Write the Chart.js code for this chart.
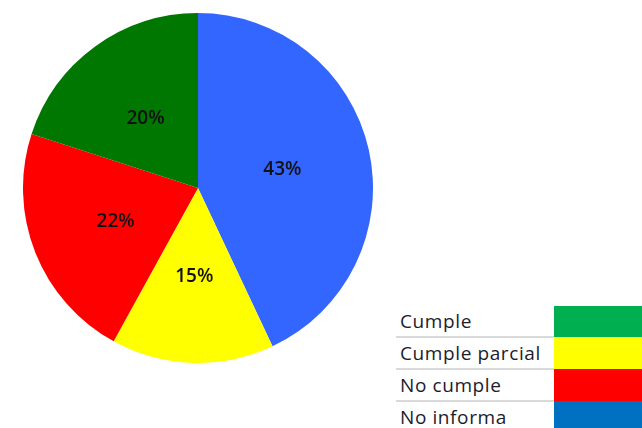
<!DOCTYPE html>
<html>
<head>
<meta charset="utf-8">
<script src="https://cdn.jsdelivr.net/npm/chart.js@4.4.1/dist/chart.umd.min.js"></script>
<style>
  html, body { margin: 0; padding: 0; background: #ffffff; width: 642px; height: 428px; overflow: hidden; }
  #pieWrap { position: absolute; left: 23px; top: 13px; width: 350px; height: 350px; }
  #legend { position: absolute; left: 396px; top: 306px; border-collapse: collapse; font-family: "Open Sans", Lato, sans-serif; }
  #legend td { padding: 0; height: 30px; }
  #legend td.lbl { width: 154px; padding-left: 4px; font-size: 19px; color: #1c1c2c; border-bottom: 2px solid #d9d9d9; vertical-align: middle; letter-spacing: 0.6px; }
  #legend tr:last-child td.lbl { border-bottom: none; }
  #legend td.sw { width: 88px; }
</style>
</head>
<body>
<div id="pieWrap"><canvas id="pie" width="350" height="350"></canvas></div>
<table id="legend"></table>
<script>
// Pie slices, clockwise from 12 o'clock
const pieLabels = ['No informa', 'Cumple parcial', 'No cumple', 'Cumple'];
const pieValues = [43, 15, 22, 20];
const pieColors = ['#3366FF', '#FFFF00', '#FF0000', '#007700'];

// Legend table (separate swatch colours as in the reference)
const legendLabels = ['Cumple', 'Cumple parcial', 'No cumple', 'No informa'];
const legendColors = ['#00B050', '#FFFF00', '#FF0000', '#0070C0'];

const labelPlugin = {
  id: 'sliceLabels',
  afterDatasetsDraw(chart) {
    const ctx = chart.ctx;
    const meta = chart.getDatasetMeta(0);
    const data = chart.data.datasets[0].data;
    const total = data.reduce((a, b) => a + b, 0);
    ctx.save();
    ctx.font = '600 19px "Open Sans", Lato, sans-serif';
    ctx.fillStyle = '#111111';
    ctx.textAlign = 'center';
    ctx.textBaseline = 'middle';
    meta.data.forEach((arc, i) => {
      const p = arc.tooltipPosition();
      ctx.fillText(Math.round(data[i] / total * 100) + '%', p.x - 1, p.y + 1);
    });
    ctx.restore();
  }
};

new Chart(document.getElementById('pie'), {
  type: 'pie',
  data: {
    labels: pieLabels,
    datasets: [{
      data: pieValues,
      backgroundColor: pieColors,
      borderColor: pieColors,
      borderWidth: 0,
      hoverOffset: 0
    }]
  },
  options: {
    responsive: false,
    animation: false,
    layout: { padding: 0 },
    plugins: { legend: { display: false }, tooltip: { enabled: false } },
    events: []
  },
  plugins: [labelPlugin]
});

const tbl = document.getElementById('legend');
legendLabels.forEach((name, i) => {
  const tr = document.createElement('tr');
  const td1 = document.createElement('td');
  td1.className = 'lbl';
  td1.textContent = name;
  const td2 = document.createElement('td');
  td2.className = 'sw';
  td2.style.background = legendColors[i];
  tr.appendChild(td1);
  tr.appendChild(td2);
  tbl.appendChild(tr);
});
</script>
</body>
</html>
